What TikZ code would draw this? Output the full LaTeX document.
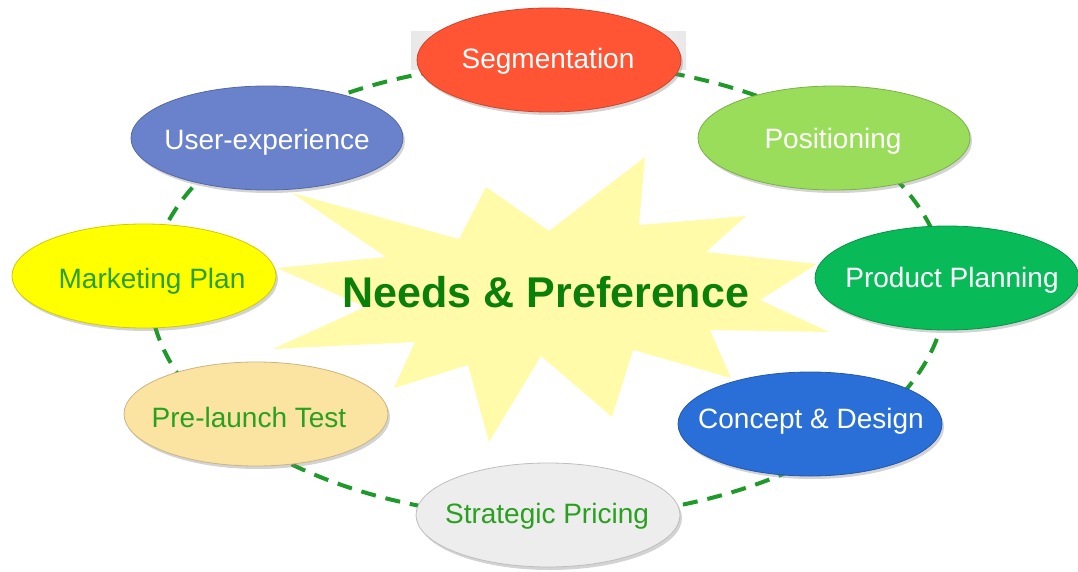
\documentclass[tikz,border=0pt]{standalone}
\usepackage{fontspec}
\setmainfont{Liberation Sans}
\usetikzlibrary{shapes.geometric,shadows}

\definecolor{ringgreen}{HTML}{1E9A2A}
\definecolor{starfill}{HTML}{FFFBA8}
\definecolor{coretext}{HTML}{0A800A}
\definecolor{segred}{HTML}{FF5535}
\definecolor{posgreen}{HTML}{9ADD5A}
\definecolor{prodgreen}{HTML}{08BA58}
\definecolor{conblue}{HTML}{2A6ED8}
\definecolor{pricegray}{HTML}{EDEDED}
\definecolor{testtan}{HTML}{FBE3A2}
\definecolor{mktyellow}{HTML}{FFFF00}
\definecolor{uxblue}{HTML}{6A82CC}
\definecolor{labelgreen}{HTML}{2AA020}

\begin{document}
\begin{tikzpicture}[x=1pt,y=-1pt,
  bubble/.style={ellipse, inner sep=0pt, minimum width=264pt, minimum height=104pt,
    fill=#1, draw=#1!80!black, line width=0.8pt,
    drop shadow={shadow xshift=2pt, shadow yshift=-3pt, opacity=0.35}},
  wide/.style={minimum width=272pt},
  lbl/.style={font=\fontsize{28}{30}\selectfont, inner sep=0pt},
  whitelbl/.style={lbl, text=white},
  greenlbl/.style={lbl, text=labelgreen},
  ringline/.style={draw=ringgreen, line width=4pt, dash pattern=on 15pt off 10pt},
  burst/.style={fill=starfill},
  coretitle/.style={font=\bfseries\fontsize{43}{46}\selectfont, text=coretext, inner sep=0pt}]

\useasboundingbox (0,0) rectangle (1078,572);

% dashed ring linking the stages
\coordinate (ring) at (548,290);
\draw[ringline] (ring) ellipse [x radius=398, y radius=228];

% central starburst
\fill[burst] (486,187) -- (549,231) -- (645,157) -- (639,225) -- (746,216) -- (706,252)
  -- (817,264) -- (760,300) -- (829,332) -- (710,330) -- (731,378) -- (633,350)
  -- (612,417) -- (541,356) -- (489,442) -- (468,365) -- (394,388) -- (415,342)
  -- (273,349) -- (365,307) -- (277,268) -- (386,257) -- (292,193) -- (459,239) -- cycle;
\node[coretitle] (core) at (546,292) {Needs \& Preference};

% pale panel behind the top stage
\shade[left color=gray!18, right color=gray!18, middle color=white] (411,32) rectangle (686,70);

% stage bubbles
\node[bubble=segred]          (seg)   at (549,60)  {};
\node[bubble=posgreen, wide]  (pos)   at (834,138) {};
\node[bubble=prodgreen]       (prod)  at (947,278) {};
\node[bubble=conblue]         (con)   at (810,424) {};
\node[bubble=pricegray]       (price) at (548,515) {};
\node[bubble=testtan]         (test)  at (256,414) {};
\node[bubble=mktyellow]       (mkt)   at (144,276) {};
\node[bubble=uxblue, wide]    (ux)    at (267,138) {};

% stage labels
\node[whitelbl] (seg-t)   at (548,61)  {Segmentation};
\node[whitelbl] (pos-t)   at (833,141) {Positioning};
\node[whitelbl] (prod-t)  at (952,280) {Product Planning};
\node[whitelbl] (con-t)   at (811,421) {Concept \& Design};
\node[greenlbl] (price-t) at (547,516) {Strategic Pricing};
\node[greenlbl] (test-t)  at (249,417) {Pre-launch Test};
\node[greenlbl] (mkt-t)   at (152,281) {Marketing Plan};
\node[whitelbl] (ux-t)    at (267,142) {User-experience};
\end{tikzpicture}
\end{document}
